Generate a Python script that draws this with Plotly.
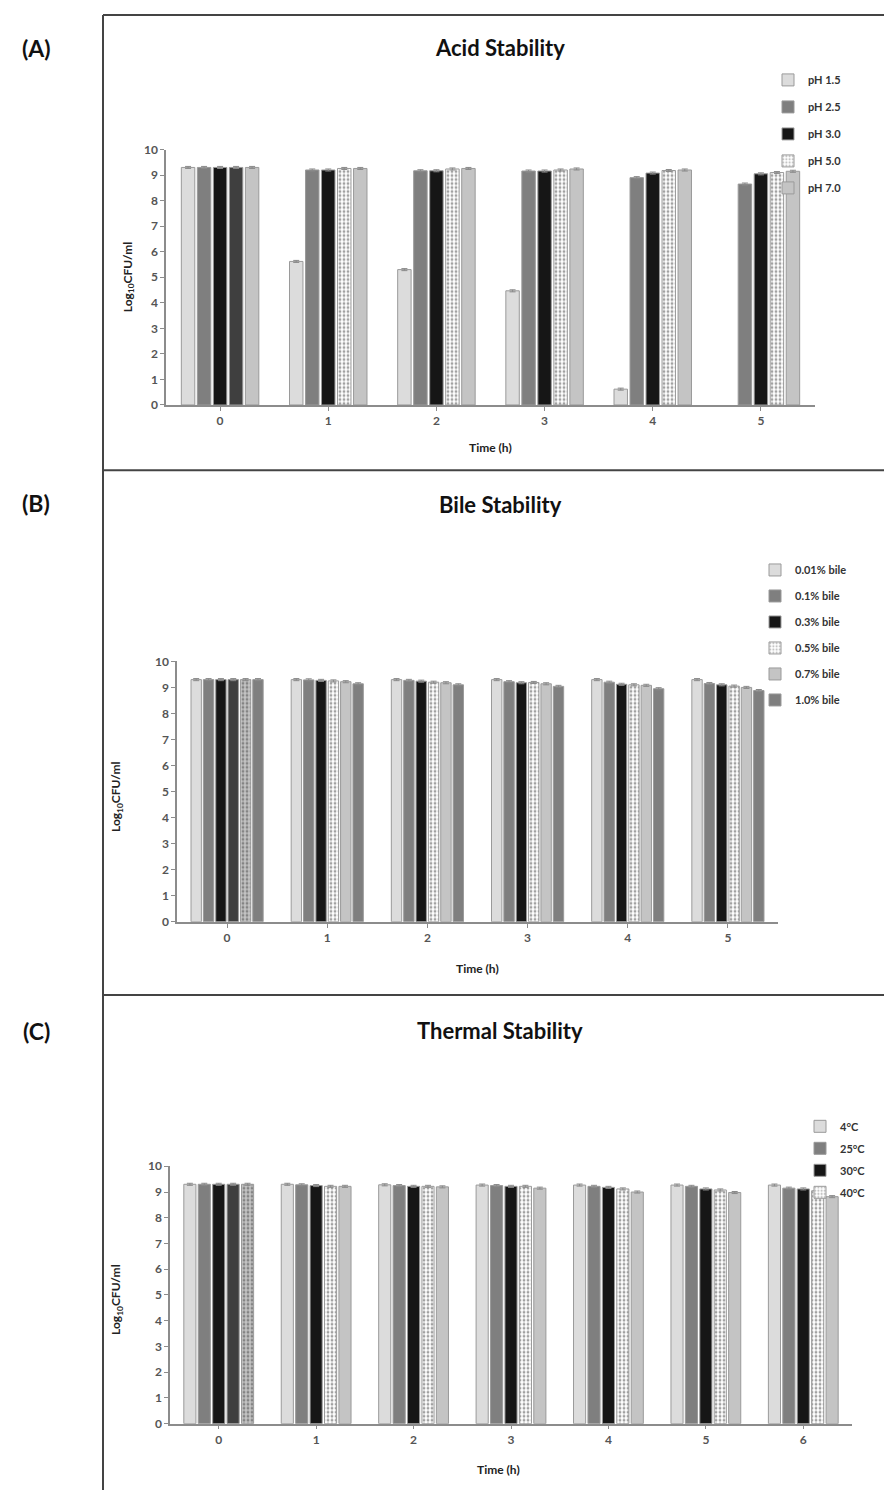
import plotly.graph_objects as go

# ---------------- DATA ----------------
acid_times = [0, 1, 2, 3, 4, 5]
acid_names = ["pH 1.5", "pH 2.5", "pH 3.0", "pH 5.0", "pH 7.0"]
acid_ph15 = [9.30, 5.62, 5.30, 4.47, 0.62, None]
acid_ph25 = [9.30, 9.20, 9.17, 9.16, 8.90, 8.65]
acid_ph30 = [9.30, 9.20, 9.17, 9.16, 9.08, 9.05]
acid_ph50 = [9.30, 9.26, 9.24, 9.20, 9.18, 9.10]
acid_ph70 = [9.30, 9.26, 9.26, 9.24, 9.20, 9.15]

bile_times = [0, 1, 2, 3, 4, 5]
bile_names = ["0.01% bile", "0.1% bile", "0.3% bile", "0.5% bile", "0.7% bile", "1.0% bile"]
bile_001 = [9.30, 9.30, 9.30, 9.30, 9.30, 9.30]
bile_01 = [9.30, 9.29, 9.27, 9.22, 9.20, 9.15]
bile_03 = [9.30, 9.27, 9.24, 9.18, 9.12, 9.10]
bile_05 = [9.30, 9.25, 9.20, 9.19, 9.10, 9.05]
bile_07 = [9.30, 9.22, 9.18, 9.14, 9.08, 9.00]
bile_10 = [9.30, 9.14, 9.10, 9.04, 8.95, 8.88]

therm_times = [0, 1, 2, 3, 4, 5, 6]
therm_names = ["4°C", "25°C", "30°C", "40°C", "50°C"]
therm_4 = [9.30, 9.30, 9.28, 9.27, 9.27, 9.27, 9.27]
therm_25 = [9.30, 9.28, 9.25, 9.25, 9.22, 9.22, 9.15]
therm_30 = [9.30, 9.25, 9.22, 9.22, 9.18, 9.12, 9.12]
therm_40 = [9.30, 9.22, 9.22, 9.22, 9.12, 9.08, 9.05]
therm_50 = [9.30, 9.22, 9.20, 9.15, 9.00, 8.98, 8.82]

y_ticks = [0, 1, 2, 3, 4, 5, 6, 7, 8, 9, 10]

# ---------------- LAYOUT HELPERS ----------------
W, H = 884, 1497
def fx(px):
    return px / W
def fy(py):
    return 1 - py / H

LIGHT = "#dcdcdc"
MID = "#7f7f7f"
BLACK = "#161616"
DARK = "#3f3f3f"
LGRAY = "#c4c4c4"
OUTLINE = "#9a9a9a"
FONT = "Lato"

def style(kind, n, first_override=None):
    base = {
        "light": (LIGHT, ""),
        "mid": (MID, ""),
        "black": (BLACK, ""),
        "dot": ("#ffffff", "."),
        "lgray": (LGRAY, ""),
    }[kind]
    cols = [base[0]] * n
    pats = [base[1]] * n
    if first_override is not None:
        cols[0] = first_override[0]
        pats[0] = first_override[1]
    return cols, pats

def rot(seq):
    # put time 0 last so the legend swatch shows the regular style
    return list(seq[1:]) + [seq[0]]

fig = go.Figure()

def add_panel(times, names, series, kinds, overrides, xa, ya, legend, show):
    n = len(times)
    for i, (name, vals, kind) in enumerate(zip(names, series, kinds)):
        cols, pats = style(kind, n, overrides[i])
        fgs = ["#8a8a8a"] * n
        fig.add_trace(go.Bar(
            x=rot(times), y=rot(vals), name=name,
            xaxis=xa, yaxis=ya, legend=legend,
            legendgroup=legend + str(i),
            showlegend=show[i],
            marker=dict(
                color=rot(cols),
                line=dict(color=OUTLINE, width=1),
                pattern=dict(shape=rot(pats), fgcolor=fgs, bgcolor=rot(cols),
                             size=4, solidity=0.4, fillmode="overlay"),
            ),
            error_y=dict(type="constant", value=0.04, thickness=1,
                         width=3, color="#8a8a8a"),
        ))

add_panel(acid_times, acid_names,
          [acid_ph15, acid_ph25, acid_ph30, acid_ph50, acid_ph70],
          ["light", "mid", "black", "dot", "lgray"],
          [None, None, None, (DARK, ""), None],
          "x", "y", "legend", [True] * 5)

add_panel(bile_times, bile_names,
          [bile_001, bile_01, bile_03, bile_05, bile_07, bile_10],
          ["light", "mid", "black", "dot", "lgray", "mid"],
          [None, None, None, (DARK, ""), (LGRAY, "."), None],
          "x2", "y2", "legend2", [True] * 6)

add_panel(therm_times, therm_names,
          [therm_4, therm_25, therm_30, therm_40, therm_50],
          ["light", "mid", "black", "dot", "lgray"],
          [None, None, None, (DARK, ""), (LGRAY, ".")],
          "x3", "y3", "legend3", [True, True, True, True, False])

tickfont = dict(family=FONT, size=12, color="#555555", weight="bold")
def xaxis(domain, n, anchor):
    return dict(domain=domain, anchor=anchor, range=[-0.5, n - 0.5],
                tickmode="array", tickvals=list(range(n)),
                ticktext=[str(v) for v in range(n)],
                showline=True, linecolor="#8c8c8c", linewidth=1.5,
                ticks="outside", ticklen=4, tickcolor="#8c8c8c",
                showgrid=False, zeroline=False, tickfont=tickfont,
                fixedrange=True)
def yaxis(domain, anchor):
    return dict(domain=domain, anchor=anchor, range=[0, 10],
                tickmode="array", tickvals=y_ticks,
                showline=True, linecolor="#8c8c8c", linewidth=1.5,
                ticks="outside", ticklen=4, tickcolor="#8c8c8c",
                showgrid=False, zeroline=False, tickfont=tickfont,
                fixedrange=True)

legfont = dict(family=FONT, size=11, color="#333333", weight="bold")

fig.update_layout(
    width=W, height=H,
    margin=dict(l=0, r=0, t=0, b=0),
    paper_bgcolor="white", plot_bgcolor="white",
    barmode="group", bargap=0.26, bargroupgap=0.16,
    font=dict(family=FONT),
    xaxis=xaxis([fx(166), fx(815)], 6, "y"),
    yaxis=yaxis([fy(401), fy(143)], "x"),
    xaxis2=xaxis([fx(177), fx(778)], 6, "y2"),
    yaxis2=yaxis([fy(923), fy(660)], "x2"),
    xaxis3=xaxis([fx(170), fx(852)], 7, "y3"),
    yaxis3=yaxis([fy(1430), fy(1170)], "x3"),
    legend=dict(x=fx(768), y=fy(58), xanchor="left", yanchor="top",
                font=legfont, tracegroupgap=8, bgcolor="rgba(0,0,0,0)"),
    legend2=dict(x=fx(755), y=fy(553), xanchor="left", yanchor="top",
                 font=legfont, tracegroupgap=7, bgcolor="rgba(0,0,0,0)"),
    legend3=dict(x=fx(800), y=fy(1115), xanchor="left", yanchor="top",
                 font=legfont, tracegroupgap=3, bgcolor="rgba(0,0,0,0)"),
    showlegend=True,
)

ann = []
def text(x, y, s, size, rot=0, color="#111111"):
    ann.append(dict(x=fx(x), y=fy(y), xref="paper", yref="paper",
                    text=s, showarrow=False, textangle=rot,
                    font=dict(family=FONT, size=size, color=color, weight="bold"),
                    xanchor="center", yanchor="middle"))

text(36, 40, "(A)", 23)
text(36, 500, "(B)", 23)
text(36, 1033, "(C)", 23)
text(500, 40, "Acid Stability", 22)
text(500, 502, "Bile Stability", 22)
text(500, 1033, "Thermal Stability", 22)
text(490, 444, "Time (h)", 12, color="#222222")
text(478, 970, "Time (h)", 12, color="#222222")
text(498, 1476, "Time (h)", 12, color="#222222")
ylab = "Log<sub>10</sub>CFU/ml"
text(128, 272, ylab, 12, rot=-90, color="#222222")
text(116, 797, ylab, 12, rot=-90, color="#222222")
text(117, 1305, ylab, 12, rot=-90, color="#222222")
fig.update_layout(annotations=ann)

shapes = []
def line(x0, y0, x1, y1, w=2):
    shapes.append(dict(type="line", xref="paper", yref="paper",
                       x0=fx(x0), y0=fy(y0), x1=fx(x1), y1=fy(y1),
                       line=dict(color="#444444", width=w)))
line(103, 7, 103, 1497)
line(103, 7, 884, 7)
line(103, 467, 884, 467)
line(103, 997, 884, 997)
fig.update_layout(shapes=shapes)

fig.write_html(
    "out.html",
    config={"displayModeBar": False},
    post_script="document.body.style.margin='0';document.body.style.padding='0';"
                "document.body.style.overflow='hidden';"
                "document.documentElement.style.overflow='hidden';",
)
